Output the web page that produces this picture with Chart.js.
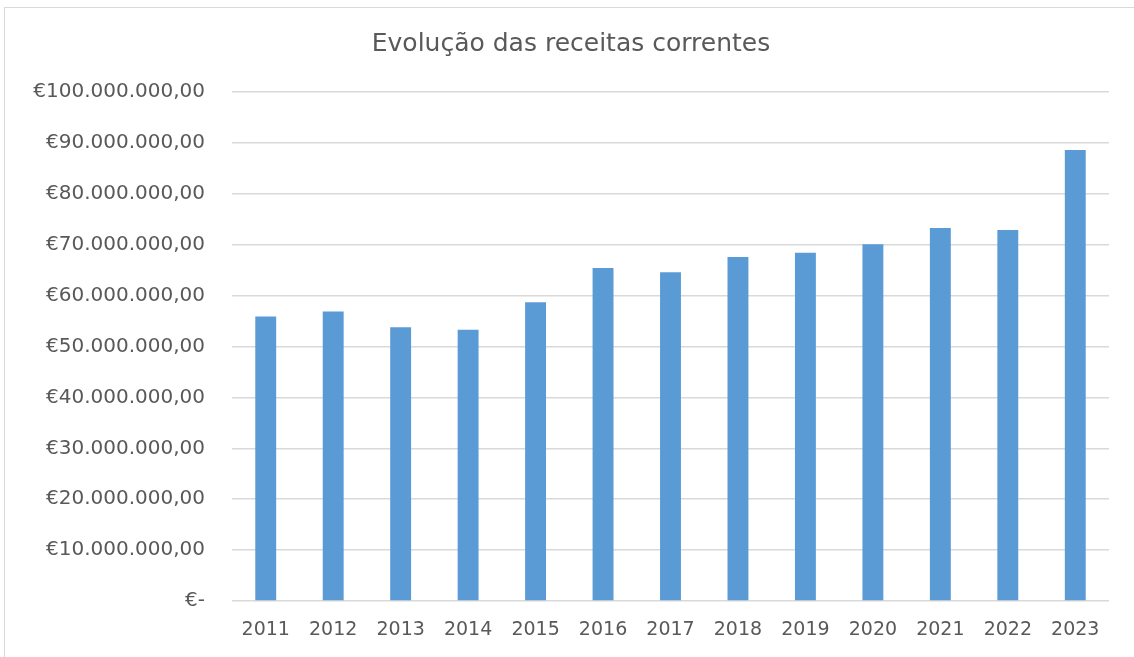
<!DOCTYPE html>
<html>
<head>
<meta charset="utf-8">
<script src="https://cdn.jsdelivr.net/npm/chart.js@4.4.1/dist/chart.umd.min.js"></script>
<style>
  html, body { margin: 0; padding: 0; background: #fff; }
  #moldura {
    position: absolute; left: 4px; top: 7px; width: 1200px; height: 700px;
    border: 1.5px solid #d9d9d9; box-sizing: border-box;
  }
  #grafico { position: absolute; left: 0; top: 0; }
</style>
</head>
<body>
<div id="moldura"></div>
<canvas id="grafico" width="1134" height="657"></canvas>
<script>
// Dados
const anos = ['2011', '2012', '2013', '2014', '2015', '2016', '2017',
              '2018', '2019', '2020', '2021', '2022', '2023'];
const receitas = [55900000, 56900000, 53800000, 53300000, 58700000, 65400000, 64600000,
                  67600000, 68400000, 70100000, 73300000, 72900000, 88600000];
const limiteEixo = 100000000;
const passoEixo = 10000000;

// Formata no estilo contabilístico: €10.000.000,00 e €- para zero
function formatarEuro(valor) {
    if (valor === 0) return '€-';
    const inteiro = Math.round(valor).toString().replace(/\B(?=(\d{3})+(?!\d))/g, '.');
    return '€' + inteiro + ',00';
}

const corTexto = '#595959';
const corGrelha = '#d9d9d9';

const ctx = document.getElementById('grafico').getContext('2d');
new Chart(ctx, {
    type: 'bar',
    data: {
        labels: anos,
        datasets: [{
            label: 'Receitas correntes',
            data: receitas,
            backgroundColor: '#5b9bd5',
            borderWidth: 0,
            barPercentage: 0.31,
            categoryPercentage: 1
        }]
    },
    options: {
        responsive: false,
        animation: false,
        // padding à esquerda só para centrar o título como no original
        layout: { padding: { left: 33, right: 25, top: 0, bottom: 0 } },
        plugins: {
            legend: { display: false },
            tooltip: { enabled: false },
            title: {
                display: true,
                text: 'Evolução das receitas correntes',
                color: corTexto,
                font: { family: 'DejaVu Sans', size: 25, weight: 'normal' },
                padding: { top: 29, bottom: 33 }
            }
        },
        scales: {
            x: {
                grid: { display: false, drawTicks: false },
                border: { display: false },
                ticks: {
                    color: corTexto,
                    font: { family: 'DejaVu Sans', size: 19 },
                    padding: 18,
                    maxRotation: 0
                },
                afterFit: (escala) => { escala.height = 56; }
            },
            y: {
                min: 0,
                max: limiteEixo,
                grid: { color: corGrelha, lineWidth: 1.5, drawTicks: false },
                border: { display: false },
                ticks: {
                    stepSize: passoEixo,
                    color: corTexto,
                    font: { family: 'DejaVu Sans', size: 20 },
                    padding: 27,
                    callback: (valor) => formatarEuro(valor)
                },
                afterFit: (escala) => { escala.width = 199; }
            }
        }
    }
});
</script>
</body>
</html>
